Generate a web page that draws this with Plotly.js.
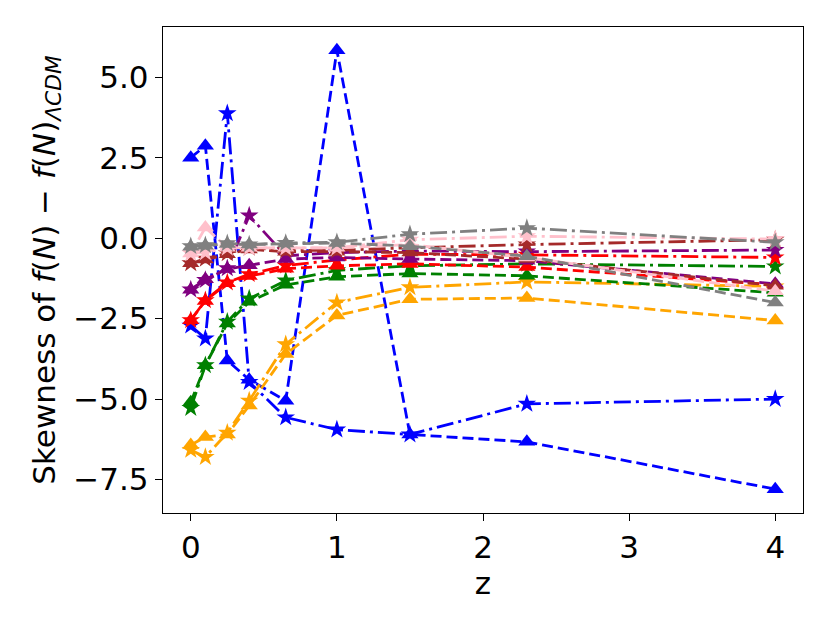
<!DOCTYPE html>
<html>
<head>
<meta charset="utf-8">
<script src="https://cdn.plot.ly/plotly-3.0.1.min.js"></script>
<style>
  html, body { margin: 0; padding: 0; background: #fff; }
  #chart { width: 830px; height: 623px; }
</style>
</head>
<body>
<div id="chart"></div>
<script>
// redshifty
const z = [0, 0.1, 0.25, 0.4, 0.65, 1, 1.5, 2.3, 4];

// trójkąty = linia przerywana, gwiazdki = kreska-kropka
const blueTri   = [2.5, 2.87, -3.8, -4.4, -5.05, 5.84, -6.1, -6.33, -7.8];
const blueStar  = [-2.72, -3.12, 3.88, -4.47, -5.57, -5.95, -6.1, -5.15, -5.0];
const orangeTri = [-6.43, -6.18, -6.1, -5.2, -3.6, -2.4, -1.9, -1.86, -2.56];
const orangeStar= [-6.58, -6.8, -6.05, -5.05, -3.3, -2.0, -1.53, -1.36, -1.5];
const greenTri  = [-5.1, -3.95, -2.65, -1.98, -1.45, -1.2, -1.1, -1.17, -1.7];
const greenStar = [-5.28, -3.95, -2.6, -1.88, -1.32, -1.0, -0.86, -0.8, -0.88];
const redTri    = [-2.55, -1.95, -1.4, -1.18, -0.95, -0.86, -0.8, -0.9, -1.45];
const redStar   = [-2.55, -1.93, -1.38, -1.12, -0.85, -0.68, -0.5, -0.52, -0.6];
const purpleTri = [-1.6, -1.28, -0.96, -0.84, -0.65, -0.6, -0.65, -0.7, -1.42];
const purpleStar= [-1.6, -1.3, -0.94, 0.7, -0.55, -0.45, -0.4, -0.42, -0.37];
const brownTri  = [-0.78, -0.66, -0.5, -0.35, -0.42, -0.42, -0.45, -0.65, -1.48];
const brownStar = [-0.78, -0.64, -0.47, -0.3, -0.38, -0.38, -0.3, -0.2, -0.05];
const pinkTri   = [-0.48, 0.33, -0.3, -0.3, -0.3, -0.3, -0.2, -0.6, -1.65];
const pinkStar  = [-0.47, -0.45, -0.3, -0.3, -0.3, -0.3, -0.05, 0.06, -0.03];
const grayTri   = [-0.27, -0.24, -0.18, -0.2, -0.17, -0.15, -0.25, -0.56, -2.0];
const grayStar  = [-0.25, -0.22, -0.16, -0.2, -0.15, -0.13, 0.12, 0.31, -0.13];

const yTicks = [5.0, 2.5, 0.0, -2.5, -5.0, -7.5];
const yTickText = ['5.0', '2.5', '0.0', '\u22122.5', '\u22125.0', '\u22127.5'];
const xTicks = [0, 1, 2, 3, 4];

const pairs = [
  ['blue',   blueTri,   blueStar],
  ['orange', orangeTri, orangeStar],
  ['green',  greenTri,  greenStar],
  ['red',    redTri,    redStar],
  ['purple', purpleTri, purpleStar],
  ['brown',  brownTri,  brownStar],
  ['pink',   pinkTri,   pinkStar],
  ['gray',   grayTri,   grayStar],
];

const colorMap = {
  blue: '#0000ff', orange: '#ffa500', green: '#008000', red: '#ff0000',
  purple: '#800080', brown: '#a52a2a', pink: '#ffc0cb', gray: '#808080'
};

const traces = [];
for (const [name, tri, star] of pairs) {
  const c = colorMap[name];
  traces.push({
    x: z, y: tri, type: 'scatter', mode: 'lines+markers', name: name + ' tri',
    line: { color: c, width: 2.8, dash: '11px,5px' },
    marker: { symbol: 'triangle-up', size: 15, color: c, line: { width: 0 } },
  });
  traces.push({
    x: z, y: star, type: 'scatter', mode: 'lines+markers', name: name + ' star',
    line: { color: c, width: 2.8, dash: '17px,5px,3px,5px' },
    marker: { symbol: 'star', size: 14, color: c, line: { width: 0 } },
  });
}

const tickFont = { family: 'DejaVu Sans', size: 31, color: '#000' };

Plotly.newPlot('chart', traces, {
  width: 830, height: 623,
  paper_bgcolor: '#fff', plot_bgcolor: '#fff',
  margin: { l: 163, r: 27, t: 27, b: 110 },
  showlegend: false,
  xaxis: {
    range: [-0.19, 4.19],
    tickvals: xTicks, ticktext: xTicks.map(String),
    ticks: 'outside', ticklen: 7, tickwidth: 1.4, tickcolor: '#000',
    showgrid: false, zeroline: false,
    showline: true, linecolor: '#000', linewidth: 1.4, mirror: true,
    tickfont: tickFont,
    title: { text: 'z', font: { family: 'DejaVu Sans', size: 31, color: '#000' }, standoff: 0 },
  },
  yaxis: {
    range: [-8.54, 6.56],
    tickvals: yTicks, ticktext: yTickText,
    ticks: 'outside', ticklen: 7, tickwidth: 1.4, tickcolor: '#000',
    showgrid: false, zeroline: false,
    showline: true, linecolor: '#000', linewidth: 1.4, mirror: true,
    tickfont: tickFont,
    title: {
      text: 'Skewness of <i>f</i>(<i>N</i>) \u2212 <i>f</i>(<i>N</i>)<sub><i>\u039bCDM</i></sub>',
      font: { family: 'DejaVu Sans', size: 31, color: '#000' }, standoff: 8
    },
  },
}, { displayModeBar: false, responsive: false });
</script>
</body>
</html>
